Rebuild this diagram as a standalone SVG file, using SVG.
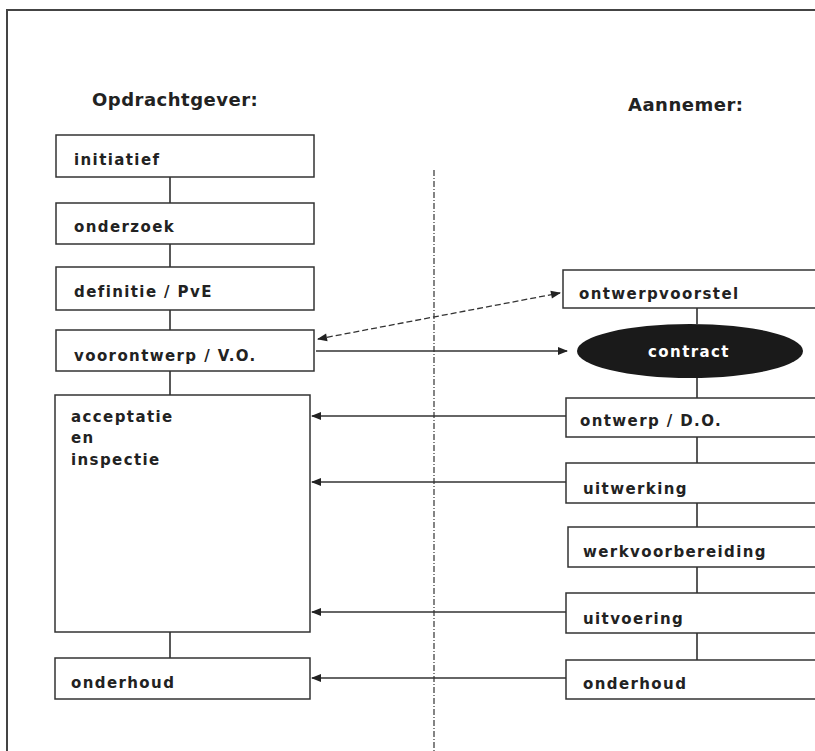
<svg xmlns="http://www.w3.org/2000/svg" width="815" height="751" viewBox="0 0 815 751">
<defs>
<marker id="ah" viewBox="0 0 10 10" refX="9" refY="5" markerWidth="11" markerHeight="10" markerUnits="userSpaceOnUse" orient="auto-start-reverse">
<path d="M0,1 L10,5 L0,9 Z" fill="#222"/>
</marker>
<style>
.box{fill:#fff;stroke:#333;stroke-width:1.5}
.t{font-family:"DejaVu Sans","Liberation Sans",sans-serif;font-weight:bold;font-size:15px;fill:#222;letter-spacing:1.4px}
.h{font-family:"DejaVu Sans","Liberation Sans",sans-serif;font-weight:bold;font-size:18px;fill:#222;letter-spacing:0.5px}
.c{stroke:#222;stroke-width:1.5;fill:none}
.a{stroke:#333;stroke-width:1.3;fill:none;marker-end:url(#ah)}
</style>
</defs>
<rect width="815" height="751" fill="#fff"/>
<path d="M7,751 L7,10 L815,10" fill="none" stroke="#444" stroke-width="2"/>
<line x1="434" y1="170" x2="434" y2="751" stroke="#333" stroke-width="1.2" stroke-dasharray="6,2,1,2"/>
<text class="h" x="92" y="106">Opdrachtgever:</text>
<text class="h" x="628" y="111">Aannemer:</text>
<g id="connectors">
<line class="c" x1="170" y1="177" x2="170" y2="203"/>
<line class="c" x1="170" y1="244" x2="170" y2="267"/>
<line class="c" x1="170" y1="310" x2="170" y2="330"/>
<line class="c" x1="170" y1="371" x2="170" y2="395"/>
<line class="c" x1="170" y1="632" x2="170" y2="658"/>
<line class="c" x1="697" y1="308" x2="697" y2="324"/>
<line class="c" x1="697" y1="378" x2="697" y2="398"/>
<line class="c" x1="697" y1="437" x2="697" y2="463"/>
<line class="c" x1="697" y1="503" x2="697" y2="527"/>
<line class="c" x1="697" y1="567" x2="697" y2="593"/>
<line class="c" x1="697" y1="633" x2="697" y2="660"/>
<line class="a" x1="318" y1="339" x2="560" y2="293" stroke-dasharray="6,3" marker-start="url(#ah)"/>
<line class="a" x1="316" y1="351" x2="567" y2="351" stroke="#3a3a5a"/>
<line class="a" x1="566" y1="416" x2="312" y2="416" stroke="#4a8aa0"/>
<line class="a" x1="566" y1="482" x2="312" y2="482"/>
<line class="a" x1="566" y1="612" x2="312" y2="612"/>
<line class="a" x1="566" y1="678" x2="312" y2="678" stroke="#b04050"/>
</g>
<g id="initiatief"><rect class="box" x="56" y="135" width="258" height="42"/><text class="t" x="74" y="165">initiatief</text></g>
<g id="onderzoek"><rect class="box" x="56" y="203" width="258" height="41"/><text class="t" x="74" y="232">onderzoek</text></g>
<g id="definitie"><rect class="box" x="56" y="267" width="258" height="43"/><text class="t" x="74" y="297">definitie / PvE</text></g>
<g id="voorontwerp"><rect class="box" x="56" y="330" width="258" height="41"/><text class="t" x="74" y="361">voorontwerp / V.O.</text></g>
<g id="acceptatie"><rect class="box" x="55" y="395" width="255" height="237"/><text class="t" x="71" y="422">acceptatie</text><text class="t" x="71" y="443">en</text><text class="t" x="71" y="465">inspectie</text></g>
<g id="onderhoud-og"><rect class="box" x="55" y="658" width="255" height="41"/><text class="t" x="71" y="688">onderhoud</text></g>
<g id="ontwerpvoorstel"><rect class="box" x="563" y="270" width="270" height="38"/><text class="t" x="579" y="299">ontwerpvoorstel</text></g>
<g id="contract"><ellipse cx="690" cy="351" rx="113" ry="27" fill="#1a1a1a"/><text class="t" x="689" y="357" text-anchor="middle" style="fill:#fff">contract</text></g>
<g id="ontwerp-do"><rect class="box" x="566" y="398" width="270" height="39"/><text class="t" x="580" y="426">ontwerp / D.O.</text></g>
<g id="uitwerking"><rect class="box" x="566" y="463" width="270" height="40"/><text class="t" x="583" y="494">uitwerking</text></g>
<g id="werkvoorbereiding"><rect class="box" x="568" y="527" width="270" height="40"/><text class="t" x="583" y="557">werkvoorbereiding</text></g>
<g id="uitvoering"><rect class="box" x="566" y="593" width="270" height="40"/><text class="t" x="583" y="624">uitvoering</text></g>
<g id="onderhoud-an"><rect class="box" x="566" y="660" width="270" height="39"/><text class="t" x="583" y="689">onderhoud</text></g>
</svg>
